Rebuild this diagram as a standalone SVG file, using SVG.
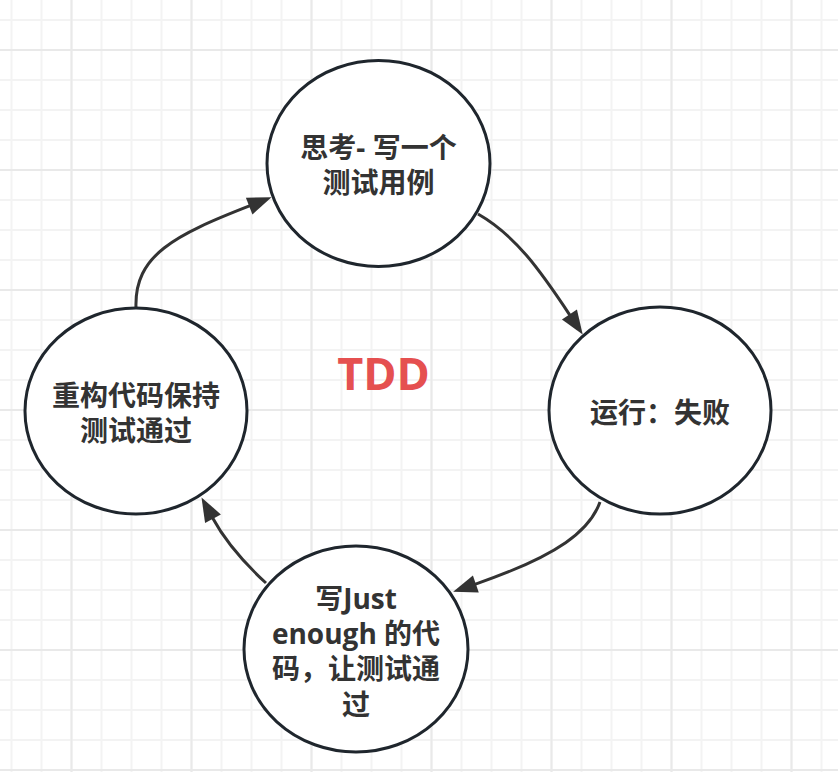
<svg xmlns="http://www.w3.org/2000/svg" width="838" height="772" viewBox="0 0 838 772">
<style>
.node{fill:#ffffff;stroke:#1f262d;stroke-width:3}
.lbl{font-family:"Open Sans","Noto Sans CJK SC",sans-serif;font-weight:bold;font-size:28px;fill:#333333;text-anchor:middle}
.edge{fill:none;stroke:#333333;stroke-width:3}
.title{font-family:"Open Sans","Noto Sans CJK SC",sans-serif;font-weight:bold;font-size:45px;fill:#e55050;text-anchor:middle}
</style>
<defs>
<pattern id="gMinor" patternUnits="userSpaceOnUse" x="0" y="0" width="30" height="30">
<path d="M11.5,0 V30 M0,20 H30" stroke="#f3f3f3" stroke-width="2" fill="none"/>
</pattern>
<pattern id="gMajor" patternUnits="userSpaceOnUse" x="0" y="0" width="120" height="120">
<path d="M71.5,0 V120 M0,50 H120" stroke="#e9e9e9" stroke-width="2" fill="none"/>
</pattern>
<marker id="arrow" markerUnits="userSpaceOnUse" markerWidth="26" markerHeight="18" refX="1" refY="9" orient="auto" overflow="visible">
<path d="M0,0 L24,9 L0,18 z" fill="#333333"/>
</marker>
</defs>
<g id="background">
<rect width="838" height="772" fill="#ffffff"/>
<rect width="838" height="772" fill="url(#gMinor)"/>
<rect width="838" height="772" fill="url(#gMajor)"/>
</g>
<g id="connectors">
<path class="edge" d="M478,214 C515,235 540,270 570,315.3" marker-end="url(#arrow)"/>
<path class="edge" d="M600,502 C590,530 560,555 474.9,584.3" marker-end="url(#arrow)"/>
<path class="edge" d="M266,583 Q230,550 212.5,517.8" marker-end="url(#arrow)"/>
<path class="edge" d="M136,308 C134,255 175,235 250.1,205.7" marker-end="url(#arrow)"/>
</g>
<g id="node-think">
<ellipse class="node" cx="378.5" cy="163.5" rx="111.5" ry="103"/>
<text class="lbl" x="378.5" y="158">思考- 写一个</text>
<text class="lbl" x="378.5" y="193">测试用例</text>
</g>
<g id="node-run">
<ellipse class="node" cx="660" cy="410.5" rx="111" ry="103.5"/>
<text class="lbl" x="660" y="423">运行：失败</text>
</g>
<g id="node-write">
<ellipse class="node" cx="356" cy="649" rx="112" ry="103"/>
<text class="lbl" x="356" y="609">写Just</text>
<text class="lbl" x="356" y="644">enough 的代</text>
<text class="lbl" x="356" y="679">码，让测试通</text>
<text class="lbl" x="356" y="715">过</text>
</g>
<g id="node-refactor">
<ellipse class="node" cx="136" cy="411" rx="111" ry="103"/>
<text class="lbl" x="136" y="406">重构代码保持</text>
<text class="lbl" x="136" y="441">测试通过</text>
</g>
<g id="label-tdd">
<text class="title" x="383.5" y="390">TDD</text>
</g>
</svg>
